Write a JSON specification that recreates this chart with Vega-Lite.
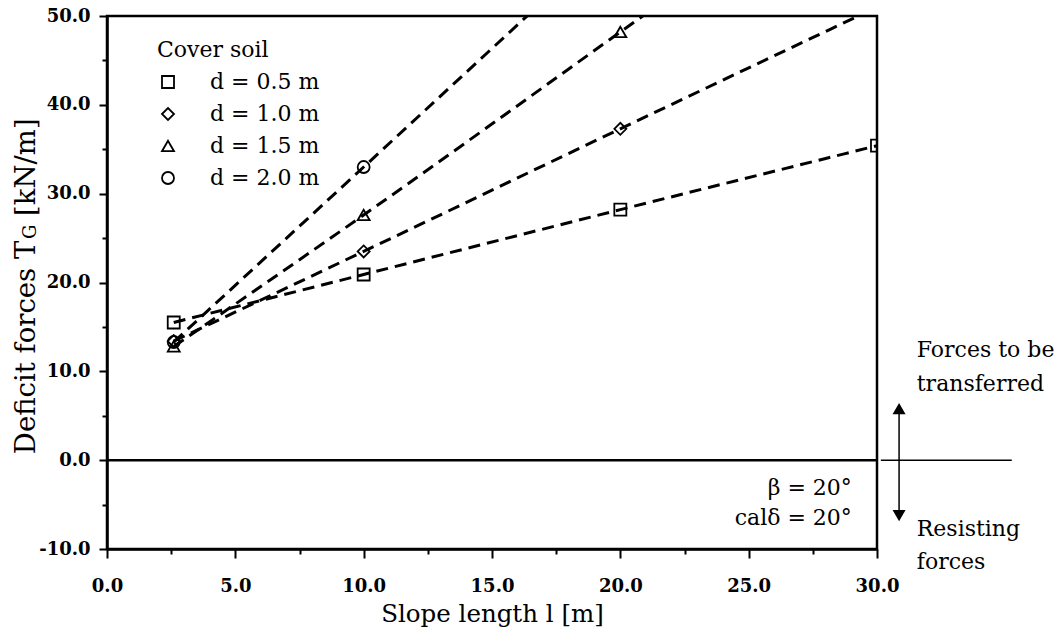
{
  "$schema": "https://vega.github.io/schema/vega-lite/v6.json",
  "width": 770,
  "height": 533,
  "autosize": {"type": "none"},
  "padding": {"left": 107, "top": 16, "right": 181, "bottom": 95},
  "background": "white",
  "config": {"font": "DejaVu Serif", "view": {"stroke": "black", "strokeWidth": 2.5}},
  "data": {"values": [{}]},
  "datasets": {
    "series": [
      {"d": "d = 0.5 m", "l": 2.6, "T": 15.5},
      {"d": "d = 0.5 m", "l": 10, "T": 20.9},
      {"d": "d = 0.5 m", "l": 20, "T": 28.2},
      {"d": "d = 0.5 m", "l": 30, "T": 35.4},
      {"d": "d = 1.0 m", "l": 2.6, "T": 13.4},
      {"d": "d = 1.0 m", "l": 10, "T": 23.5},
      {"d": "d = 1.0 m", "l": 20, "T": 37.3},
      {"d": "d = 1.0 m", "l": 30, "T": 51.0},
      {"d": "d = 1.5 m", "l": 2.6, "T": 12.8},
      {"d": "d = 1.5 m", "l": 10, "T": 27.6},
      {"d": "d = 1.5 m", "l": 20, "T": 48.2},
      {"d": "d = 1.5 m", "l": 30, "T": 68.9},
      {"d": "d = 2.0 m", "l": 2.6, "T": 13.3},
      {"d": "d = 2.0 m", "l": 10, "T": 33.0},
      {"d": "d = 2.0 m", "l": 20, "T": 59.7},
      {"d": "d = 2.0 m", "l": 30, "T": 86.4}
    ]
  },
  "layer": [
    {
      "mark": {"type": "rule", "color": "black", "strokeWidth": 2.5},
      "encoding": {"y": {"datum": 0, "type": "quantitative"}}
    },
    {
      "data": {"name": "series"},
      "mark": {"type": "line", "clip": true, "color": "black", "strokeWidth": 3, "strokeDash": [12, 7], "interpolate": "monotone"},
      "encoding": {
        "x": {
          "field": "l", "type": "quantitative",
          "scale": {"domain": [0, 30], "nice": false, "zero": false},
          "axis": {
            "title": "Slope length l [m]",
            "values": [0, 2.5, 5, 7.5, 10, 12.5, 15, 17.5, 20, 22.5, 25, 27.5, 30],
            "labelExpr": "datum.value % 5 === 0 ? format(datum.value, '.1f') : ''",
            "tickSize": {"condition": {"test": "datum.value % 5 === 0", "value": 9}, "value": 5},
            "tickWidth": 2, "tickColor": "black",
            "domainColor": "black", "domainWidth": 2.5,
            "labelFont": "DejaVu Serif", "labelFontSize": 18, "labelFontWeight": "bold", "labelColor": "black", "labelPadding": 19, "labelFlush": false,
            "titleFont": "DejaVu Serif", "titleFontSize": 24.5, "titleFontWeight": "normal", "titleColor": "black", "titlePadding": 7,
            "grid": false
          }
        },
        "y": {
          "field": "T", "type": "quantitative",
          "scale": {"domain": [-10, 50], "nice": false, "zero": false},
          "axis": {
            "title": null,
            "values": [-10, -5, 0, 5, 10, 15, 20, 25, 30, 35, 40, 45, 50],
            "labelExpr": "datum.value % 10 === 0 ? replace(format(datum.value, '.1f'), '\u2212', '-') : ''",
            "tickSize": {"condition": {"test": "datum.value % 10 === 0", "value": 8}, "value": 5},
            "tickWidth": 2, "tickColor": "black",
            "domainColor": "black", "domainWidth": 2.5,
            "labelFont": "DejaVu Serif", "labelFontSize": 18, "labelFontWeight": "bold", "labelColor": "black", "labelPadding": 9, "labelFlush": false,
            "grid": false
          }
        },
        "detail": {"field": "d", "type": "nominal"}
      }
    },
    {
      "data": {"name": "series"},
      "mark": {"type": "point", "clip": true, "filled": false, "color": "black", "strokeWidth": 1.8, "size": 144, "opacity": 1},
      "encoding": {
        "x": {"field": "l", "type": "quantitative"},
        "y": {"field": "T", "type": "quantitative"},
        "shape": {
          "field": "d", "type": "nominal",
          "scale": {"domain": ["d = 0.5 m", "d = 1.0 m", "d = 1.5 m", "d = 2.0 m"], "range": ["square", "diamond", "triangle-up", "circle"]},
          "legend": {
            "title": "Cover soil", "orient": "none", "legendX": 50, "legendY": 24, "padding": 0,
            "titleFont": "DejaVu Serif", "titleFontSize": 22, "titleFontWeight": "normal", "titleColor": "black", "titlePadding": 9,
            "labelFont": "DejaVu Serif", "labelFontSize": 22, "labelColor": "black", "labelOffset": 31,
            "rowPadding": 10, "symbolSize": 144, "symbolStrokeWidth": 1.8, "symbolStrokeColor": "black", "symbolFillColor": "transparent", "symbolOpacity": 1
          }
        }
      }
    },
    {
      "mark": {"type": "rule", "color": "black", "strokeWidth": 1.5, "clip": false},
      "encoding": {"x": {"datum": 30.15}, "x2": {"datum": 35.25}, "y": {"datum": 0}}
    },
    {
      "mark": {"type": "rule", "color": "black", "strokeWidth": 1.5, "clip": false},
      "encoding": {"x": {"datum": 30.86}, "y": {"datum": 5.8}, "y2": {"datum": -6.2}}
    },
    {
      "mark": {"type": "point", "shape": "triangle-up", "filled": true, "color": "black", "size": 169, "opacity": 1, "clip": false},
      "encoding": {"x": {"datum": 30.86}, "y": {"datum": 5.8}}
    },
    {
      "mark": {"type": "point", "shape": "triangle-down", "filled": true, "color": "black", "size": 169, "opacity": 1, "clip": false},
      "encoding": {"x": {"datum": 30.86}, "y": {"datum": -6.24}}
    },
    {
      "mark": {"type": "text", "text": "β = 20°", "font": "DejaVu Serif", "fontSize": 22, "align": "right", "baseline": "middle", "color": "black", "clip": false},
      "encoding": {"x": {"datum": 29.02}, "y": {"datum": -3.15}}
    },
    {
      "mark": {"type": "text", "text": "calδ = 20°", "font": "DejaVu Serif", "fontSize": 22, "align": "right", "baseline": "middle", "color": "black", "clip": false},
      "encoding": {"x": {"datum": 29.02}, "y": {"datum": -6.5}}
    },
    {
      "mark": {"type": "text", "text": "Forces to be", "font": "DejaVu Serif", "fontSize": 22, "align": "left", "baseline": "alphabetic", "color": "black", "clip": false},
      "encoding": {"x": {"datum": 31.55}, "y": {"datum": 11.6}}
    },
    {
      "mark": {"type": "text", "text": "transferred", "font": "DejaVu Serif", "fontSize": 22, "align": "left", "baseline": "alphabetic", "color": "black", "clip": false},
      "encoding": {"x": {"datum": 31.55}, "y": {"datum": 7.8}}
    },
    {
      "mark": {"type": "text", "text": "Resisting", "font": "DejaVu Serif", "fontSize": 22, "align": "left", "baseline": "alphabetic", "color": "black", "clip": false},
      "encoding": {"x": {"datum": 31.55}, "y": {"datum": -8.56}}
    },
    {
      "mark": {"type": "text", "text": "forces", "font": "DejaVu Serif", "fontSize": 22, "align": "left", "baseline": "alphabetic", "color": "black", "clip": false},
      "encoding": {"x": {"datum": 31.55}, "y": {"datum": -12.3}}
    },
    {
      "mark": {"type": "text", "text": "Deficit forces T", "font": "DejaVu Serif", "fontSize": 27.5, "angle": 270, "align": "left", "baseline": "alphabetic", "color": "black", "clip": false},
      "encoding": {"x": {"datum": -2.8}, "y": {"datum": 0.68}}
    },
    {
      "mark": {"type": "text", "text": "G", "font": "DejaVu Serif", "fontSize": 18, "angle": 270, "align": "left", "baseline": "alphabetic", "color": "black", "clip": false},
      "encoding": {"x": {"datum": -2.75}, "y": {"datum": 24.9}}
    },
    {
      "mark": {"type": "text", "text": "[kN/m]", "font": "DejaVu Serif", "fontSize": 27.5, "angle": 270, "align": "left", "baseline": "alphabetic", "color": "black", "clip": false},
      "encoding": {"x": {"datum": -2.8}, "y": {"datum": 27.5}}
    }
  ]
}
